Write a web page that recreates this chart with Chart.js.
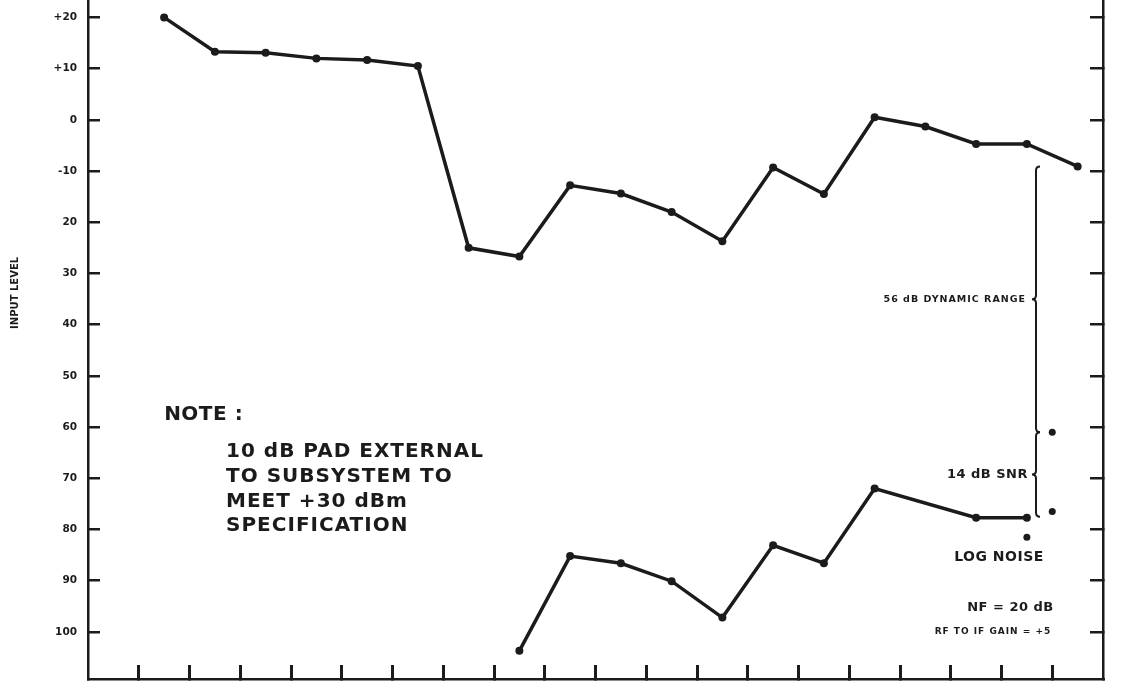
<!DOCTYPE html>
<html>
<head>
<meta charset="utf-8">
<script src="https://cdn.jsdelivr.net/npm/chart.js@4.4.0/dist/chart.umd.min.js"></script>
<style>
  body { margin: 0; background: #fff; }
  #wrap { width: 1147px; height: 682px; }
</style>
</head>
<body>
<div id="wrap"><canvas id="chart" width="1147" height="682"></canvas></div>
<script>
// input level (dB) per step along the horizontal axis
const steps = [0, 1, 2, 3, 4, 5, 6, 7, 8, 9, 10, 11, 12, 13, 14, 15, 16, 17, 18];
const upperLevel = [20, 13.3, 13.1, 12.0, 11.7, 10.5, -25.0, -26.7, -12.8, -14.4, -18.0, -23.7, -9.3, -14.5, 0.5, -1.3, -4.7, -4.7, -9.1];

const lowerSteps = [7, 8, 9, 10, 11, 12, 13, 14, 16, 17];
const lowerLevel = [-103.7, -85.2, -86.6, -90.1, -97.2, -83.1, -86.6, -72.0, -77.7, -77.7];

// single markers at the right: SNR limits and log noise
const snrSteps = [17.5, 17.5];
const snrLevel = [-61, -76.5];
const noiseSteps = [17];
const noiseLevel = [-81.5];

const yTickValues = [20, 10, 0, -10, -20, -30, -40, -50, -60, -70, -80, -90, -100];
const yTickLabels = ['+20', '+10', '0', '-10', '20', '30', '40', '50', '60', '70', '80', '90', '100'];

const noteLines = ['10 dB PAD EXTERNAL', 'TO SUBSYSTEM TO', 'MEET +30 dBm', 'SPECIFICATION'];

const ink = '#1b1b1b';
const FONT = '"DejaVu Sans", sans-serif';

function pts(xs, ys) {
  return xs.map((x, i) => ({ x: x, y: ys[i] }));
}

function yTicks(scale) {
  scale.ticks = yTickValues.map(v => ({ value: v }));
}

// the axes run right to the canvas edge, so drop the label padding
function noPad(scale) {
  scale.paddingTop = 0;
  scale.paddingBottom = 0;
  scale.paddingLeft = 0;
  scale.paddingRight = 0;
}

// curly brace "{" from y0 to y1, point facing left
function brace(ctx, x, y0, y1) {
  const d = 4;
  const ym = (y0 + y1) / 2;
  ctx.beginPath();
  ctx.moveTo(x + d, y0);
  ctx.quadraticCurveTo(x, y0, x, y0 + d);
  ctx.lineTo(x, ym - d);
  ctx.quadraticCurveTo(x, ym, x - d, ym);
  ctx.quadraticCurveTo(x, ym, x, ym + d);
  ctx.lineTo(x, y1 - d);
  ctx.quadraticCurveTo(x, y1, x + d, y1);
  ctx.stroke();
  return ym;
}

const notesPlugin = {
  id: 'notes',
  afterDraw(c) {
    const ctx = c.ctx;
    const xs = c.scales.x, ys = c.scales.y;
    const px = v => xs.getPixelForValue(v);
    const py = v => ys.getPixelForValue(v);
    ctx.save();
    ctx.fillStyle = ink;
    ctx.strokeStyle = ink;
    ctx.textBaseline = 'middle';

    // axis title
    ctx.save();
    ctx.translate(15, py(-33.8));
    ctx.rotate(-Math.PI / 2);
    ctx.textAlign = 'center';
    ctx.font = 'bold 10px ' + FONT;
    ctx.fillText('INPUT LEVEL', 0, 0);
    ctx.restore();

    // note block
    ctx.textAlign = 'left';
    ctx.font = 'bold 20px ' + FONT;
    ctx.letterSpacing = '0.5px';
    ctx.fillText('NOTE :', px(0), py(-57.6));
    ctx.letterSpacing = '1px';
    noteLines.forEach((t, i) => {
      ctx.fillText(t, px(1.22), py(-64.8 - i * 4.85));
    });

    // braces for dynamic range and SNR
    ctx.lineWidth = 2;
    const bx = px(17.18);
    const m1 = brace(ctx, bx, py(-9.1), py(-61));
    const m2 = brace(ctx, bx, py(-61), py(-77.5));

    ctx.textAlign = 'right';
    ctx.font = 'bold 9.5px ' + FONT;
    ctx.letterSpacing = '1px';
    ctx.fillText('56 dB DYNAMIC RANGE', bx - 10, m1);
    ctx.font = 'bold 13px ' + FONT;
    ctx.letterSpacing = '0.5px';
    ctx.fillText('14 dB SNR', bx - 8, m2);

    ctx.textAlign = 'center';
    ctx.font = 'bold 14px ' + FONT;
    ctx.fillText('LOG NOISE', px(16.45), py(-85.4));

    ctx.textAlign = 'right';
    ctx.font = 'bold 13px ' + FONT;
    ctx.fillText('NF = 20 dB', px(17.53), py(-95.3));
    ctx.font = 'bold 9px ' + FONT;
    ctx.letterSpacing = '1px';
    ctx.fillText('RF TO IF GAIN = +5', px(17.48), py(-100));
    ctx.restore();
  }
};

const lineStyle = {
  borderColor: ink,
  backgroundColor: ink,
  borderWidth: 3.5,
  pointRadius: 4,
  pointBackgroundColor: ink,
  pointBorderWidth: 0,
  showLine: true,
  tension: 0
};

const axisLine = { display: true, color: ink, width: 2.5 };

new Chart(document.getElementById('chart').getContext('2d'), {
  type: 'scatter',
  data: {
    datasets: [
      Object.assign({ data: pts(steps, upperLevel) }, lineStyle),
      Object.assign({ data: pts(lowerSteps, lowerLevel) }, lineStyle),
      { data: pts(snrSteps, snrLevel), pointRadius: 3.5, backgroundColor: ink, borderWidth: 0, showLine: false },
      { data: pts(noiseSteps, noiseLevel), pointRadius: 3.5, backgroundColor: ink, borderWidth: 0, showLine: false }
    ]
  },
  options: {
    responsive: false,
    animation: false,
    layout: { padding: 0, autoPadding: false },
    plugins: { legend: { display: false }, tooltip: { enabled: false } },
    scales: {
      x: {
        type: 'linear',
        position: 'bottom',
        min: -1.5,
        max: 18.5,
        afterBuildTicks(scale) {
          const t = [];
          for (let v = -0.5; v < 18; v += 1) t.push({ value: v });
          scale.ticks = t;
        },
        afterFit(scale) { scale.height = 3; noPad(scale); },
        ticks: { display: false },
        border: axisLine,
        grid: { drawOnChartArea: false, drawTicks: true, tickLength: -14, color: ink, lineWidth: 3 }
      },
      y: {
        position: 'left',
        min: -109.2,
        max: 23.4,
        afterBuildTicks: yTicks,
        afterFit(scale) { scale.width = 88; noPad(scale); },
        ticks: {
          padding: 23,
          color: ink,
          font: { family: FONT, size: 10.5, weight: 'bold' },
          callback: (v) => yTickLabels[yTickValues.indexOf(v)]
        },
        border: axisLine,
        grid: { drawOnChartArea: false, drawTicks: true, tickLength: -12, color: ink, lineWidth: 2.5 }
      },
      y2: {
        position: 'right',
        min: -109.2,
        max: 23.4,
        afterBuildTicks: yTicks,
        afterFit(scale) { scale.width = 44; noPad(scale); },
        ticks: { display: false },
        border: axisLine,
        grid: { drawOnChartArea: false, drawTicks: true, tickLength: -13, color: ink, lineWidth: 2.5 }
      }
    }
  },
  plugins: [notesPlugin]
});
</script>
</body>
</html>
